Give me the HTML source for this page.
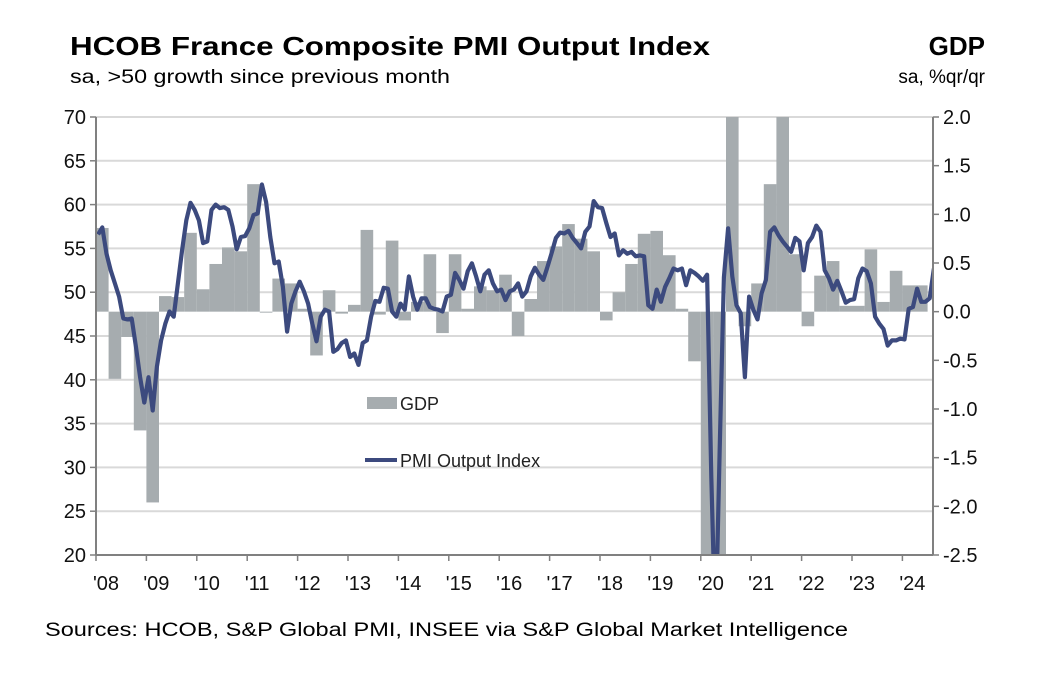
<!DOCTYPE html>
<html><head><meta charset="utf-8"><style>
html,body{margin:0;padding:0;background:#fff;width:1038px;height:678px;overflow:hidden;}
svg{display:block;font-family:"Liberation Sans",Arial,sans-serif;}
</style></head><body>
<svg id="chart" width="1038" height="678" viewBox="0 0 1038 678">
<text x="70" y="55" font-size="26" font-weight="bold" textLength="640" lengthAdjust="spacingAndGlyphs">HCOB France Composite  PMI Output Index</text>
<text x="70" y="83" font-size="19" textLength="380" lengthAdjust="spacingAndGlyphs">sa, &gt;50 growth since previous month</text>
<text x="985" y="55" font-size="26" font-weight="bold" text-anchor="end">GDP</text>
<text x="985" y="83" font-size="19" text-anchor="end">sa, %qr/qr</text>
<text x="45" y="636" font-size="19" textLength="803" lengthAdjust="spacingAndGlyphs">Sources: HCOB, S&amp;P Global PMI, INSEE via S&amp;P Global Market Intelligence</text>
<defs><clipPath id="plotclip"><rect x="96" y="117" width="837" height="438"/></clipPath></defs>
<g id="grid"></g>
<g id="bars" clip-path="url(#plotclip)"></g>
<g id="line" clip-path="url(#plotclip)"></g>
<g id="axes"></g>
<g>
<rect x="367" y="397" width="30" height="12" fill="#a6acaf"/>
<text x="400" y="410" font-size="18" fill="#222">GDP</text>
<line x1="365" y1="460" x2="397" y2="460" stroke="#3c4a7e" stroke-width="4"/>
<text x="400" y="467" font-size="18" fill="#222">PMI Output Index</text>
</g>
</svg>
<script>
const yearLabels = ["'08","'09","'10","'11","'12","'13","'14","'15","'16","'17","'18","'19","'20","'21","'22","'23","'24"];
const leftTicks = [20,25,30,35,40,45,50,55,60,65,70];
const rightTicks = [-2.5,-2.0,-1.5,-1.0,-0.5,0.0,0.5,1.0,1.5,2.0];
// GDP quarterly from 2008 Q1
const gdpValues = [0.86,-0.69,-0.26,-1.22,-1.96,0.16,0.15,0.81,0.23,0.49,0.66,0.62,1.31,-0.01,0.34,0.29,0.03,-0.45,0.22,-0.02,0.07,0.84,-0.03,0.73,-0.09,0.1,0.59,-0.22,0.59,0.03,0.26,0.22,0.38,-0.25,0.13,0.52,0.67,0.90,0.75,0.62,-0.09,0.20,0.49,0.80,0.83,0.58,0.03,-0.51,-5.6,-13.5,18.5,-0.15,0.29,1.31,3.0,0.59,-0.15,0.37,0.52,0.06,0.06,0.64,0.10,0.42,0.27,0.27];
// PMI monthly from Jan 2008
const pmiValues = [56.6,57.4,54.4,52.5,51.0,49.5,47.0,46.9,47.0,43.8,40.3,37.4,40.3,36.5,41.5,44.5,46.4,47.8,47.2,51.0,54.8,58.2,60.2,59.4,58.2,55.6,55.8,59.4,60.0,59.6,59.7,59.4,57.5,54.9,56.3,56.4,57.3,58.8,59.0,62.3,60.3,56.3,53.3,53.5,50.6,45.5,48.7,50.1,51.2,50.1,48.7,46.4,44.4,47.2,48.0,47.8,43.2,43.5,44.2,44.5,42.6,43.0,41.7,44.2,44.5,47.2,49.0,48.9,50.5,50.4,47.8,47.2,48.7,48.0,51.8,49.5,48.0,49.3,49.3,48.3,48.1,48.0,47.8,49.5,49.7,52.2,51.4,50.4,52.4,53.3,51.8,50.1,52.0,52.5,51.0,50.1,50.3,49.1,50.1,50.3,51.0,49.5,50.1,51.8,52.8,52.0,51.4,52.9,54.5,56.2,56.8,56.7,57.0,56.2,55.6,55.0,56.9,57.5,60.4,59.7,59.6,57.9,56.3,56.7,54.2,54.8,54.4,54.6,54.1,54.2,54.1,48.5,48.1,50.3,48.9,50.6,51.6,52.7,52.5,52.7,50.8,52.5,52.2,51.8,51.3,52.0,28.9,11.1,32.1,51.7,57.3,51.8,48.5,47.6,40.3,49.5,48.0,46.9,49.9,51.4,56.9,57.4,56.5,55.8,55.2,54.6,56.2,55.8,52.5,55.6,56.3,57.6,56.9,52.5,51.6,50.3,51.3,50.1,48.8,49.1,49.2,51.6,52.7,52.4,51.0,47.2,46.4,45.8,43.9,44.5,44.5,44.7,44.6,48.1,48.3,50.4,48.9,48.9,49.3,52.7];

const NS = "http://www.w3.org/2000/svg";
const X0 = 96, X1 = 933, Y0 = 117, Y1 = 555, PXY = 50.4;
function xYear(t){ return X0 + t*PXY; }
function yLeft(v){ return Y1 - (v-20)/50*(Y1-Y0); }
function yRight(v){ return Y1 - (v+2.5)/4.5*(Y1-Y0); }
function mk(tag, attrs, parent){
  const e = document.createElementNS(NS, tag);
  for (const k in attrs) e.setAttribute(k, attrs[k]);
  parent.appendChild(e); return e;
}
const grid = document.getElementById('grid');
const axes = document.getElementById('axes');
const bars = document.getElementById('bars');
const lineG = document.getElementById('line');

leftTicks.forEach(v=>{
  const y = yLeft(v);
  if (v>20){
    const g = mk('line',{x1:X0,x2:X1,y1:y,y2:y,stroke:'#d9d9d9','stroke-width':2},grid);
    
    
  }
  const t = mk('line',{x1:X0-6,x2:X0,y1:y,y2:y,stroke:'#808080','stroke-width':1.5},axes);
  
  
  const l = mk('text',{x:86,y:y+7,'font-size':20,'text-anchor':'end',fill:'#111'},axes);
  l.textContent = v;
  
  
});
rightTicks.forEach(v=>{
  const y = yRight(v);
  const t = mk('line',{x1:X1,x2:X1+6,y1:y,y2:y,stroke:'#808080','stroke-width':1.5},axes);
  
  
  const l = mk('text',{x:943,y:y+7,'font-size':20,fill:'#111'},axes);
  l.textContent = v.toFixed(1);
  
  
});
yearLabels.forEach((s,i)=>{
  const x = xYear(i);
  const t = mk('line',{x1:x,x2:x,y1:Y1,y2:Y1+6,stroke:'#808080','stroke-width':1.5},axes);
  
  
  const l = mk('text',{x:x+10,y:590,'font-size':20,'text-anchor':'middle',fill:'#111'},axes);
  l.textContent = s;
  
  
});
const la = mk('line',{x1:X0,x2:X0,y1:Y0,y2:Y1,stroke:'#808080','stroke-width':2},axes);


const ra = mk('line',{x1:X1,x2:X1,y1:Y0,y2:Y1,stroke:'#808080','stroke-width':2},axes);


const ba = mk('line',{x1:X0,x2:X1,y1:Y1,y2:Y1,stroke:'#808080','stroke-width':2},axes);



const y0 = yRight(0);
gdpValues.forEach((v,i)=>{
  const xa = xYear(i/4), xb = xYear((i+1)/4);
  const yv = yRight(v);
  const r = mk('rect',{x:xa,width:xb-xa,y:Math.min(yv,y0),height:Math.max(Math.abs(yv-y0),0.8),fill:'#a6acaf'},bars);
  
  
});
const pts = pmiValues.map((v,i)=> xYear((i+0.5)/12).toFixed(1)+','+yLeft(v).toFixed(1));
const pl = mk('polyline',{points:pts.join(' '),fill:'none',stroke:'#3c4a7e','stroke-width':4.2,'stroke-linejoin':'round'},lineG);


</script>
</body></html>
